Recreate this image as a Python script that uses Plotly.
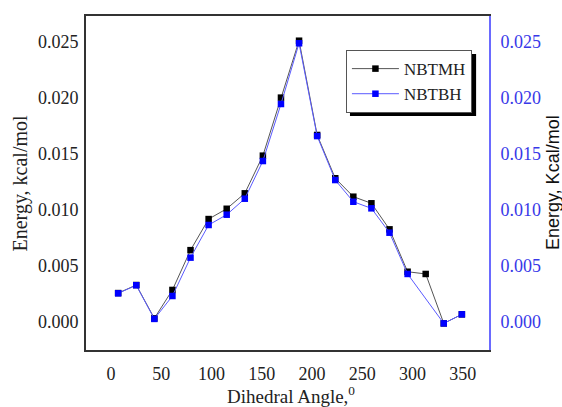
import plotly.graph_objects as go

# Dihedral scan energies for the two compounds
angles_nbtmh = [7, 25, 43, 61, 79, 97, 115, 133, 151, 169, 187, 205, 223, 241, 259, 277, 295, 313, 331, 349]
energy_nbtmh = [0.00256, 0.00328, 0.00030, 0.00284, 0.00640, 0.00918, 0.01010, 0.01148, 0.01485, 0.02004,
                0.02513, 0.01670, 0.01283, 0.01118, 0.01059, 0.00826, 0.00447, 0.00427, -0.00015, 0.00066]

angles_nbtbh = [7, 25, 43, 61, 79, 97, 115, 133, 151, 169, 187, 205, 223, 241, 259, 277, 295, 331, 349]
energy_nbtbh = [0.00254, 0.00326, 0.00025, 0.00230, 0.00573, 0.00865, 0.00957, 0.01100, 0.01437, 0.01947,
                0.02490, 0.01660, 0.01267, 0.01073, 0.01014, 0.00796, 0.00427, -0.00015, 0.00066]

x_ticks = [0, 50, 100, 150, 200, 250, 300, 350]
y_ticks = [0.000, 0.005, 0.010, 0.015, 0.020, 0.025]

SERIF = "Liberation Serif, Times New Roman, serif"
BLUE = "#0000ff"
TICK_BLUE = "#3838e8"

fig = go.Figure()
fig.add_trace(go.Scatter(
    x=angles_nbtmh, y=energy_nbtmh, name="NBTMH", mode="lines+markers",
    line=dict(color="#555555", width=1),
    marker=dict(symbol="square", size=6.5, color="#000000"),
))
fig.add_trace(go.Scatter(
    x=angles_nbtbh, y=energy_nbtbh, name="NBTBH", mode="lines+markers", yaxis="y2",
    line=dict(color="#5a5aff", width=1),
    marker=dict(symbol="square", size=6.5, color=BLUE),
))

y_range = [-0.00253, 0.02734]

fig.update_layout(
    width=562, height=407,
    margin=dict(l=86, r=73, t=16, b=57),
    paper_bgcolor="white", plot_bgcolor="white",
    showlegend=True,
    legend=dict(
        x=0.645, y=0.898, xanchor="left", yanchor="top",
        font=dict(family=SERIF, size=17, color="#222222"),
        bgcolor="white", bordercolor="#555555", borderwidth=1,
        tracegroupgap=0, itemwidth=47,
    ),
    xaxis=dict(
        range=[-25, 376], tickvals=x_ticks, showgrid=False, zeroline=False,
        showline=True, linecolor="#333333", linewidth=2, mirror=True,
        ticks="", ticklabelstandoff=6,
        tickfont=dict(family=SERIF, size=18, color="#222222"),
    ),
    yaxis=dict(
        range=y_range, tickvals=y_ticks, tickformat=".3f", showgrid=False, zeroline=False,
        showline=True, linecolor="#333333", linewidth=2, mirror=False,
        ticks="", ticklabelstandoff=2,
        tickfont=dict(family=SERIF, size=18, color="#222222"),
    ),
    yaxis2=dict(
        range=y_range, tickvals=y_ticks, tickformat=".3f", overlaying="y", side="right",
        showgrid=False, zeroline=False,
        showline=True, linecolor="#6a6aff", linewidth=2,
        ticks="", ticklabelstandoff=6,
        tickfont=dict(family=SERIF, size=18, color=TICK_BLUE),
    ),
    shapes=[
        # drop shadow behind the legend box
        dict(type="rect", xref="paper", yref="paper",
             x0=0.655, x1=0.968, y0=0.7006, y1=0.886,
             fillcolor="#000000", line=dict(width=0), layer="above"),
    ],
    annotations=[
        dict(text="Energy, kcal/mol", xref="paper", yref="paper", x=-0.165, y=0.5,
             textangle=-90, showarrow=False, xanchor="center", yanchor="middle",
             font=dict(family=SERIF, size=20, color="#222222")),
        dict(text="Energy, Kcal/mol", xref="paper", yref="paper", x=1.159, y=0.5,
             textangle=-90, showarrow=False, xanchor="center", yanchor="middle",
             font=dict(family="Liberation Sans", size=18, color="#111111")),
        dict(text="Dihedral Angle,<sup>0</sup>", xref="paper", yref="paper", x=0.508, y=-0.135,
             showarrow=False, xanchor="center", yanchor="middle",
             font=dict(family=SERIF, size=19, color="#222222")),
    ],
)

fig.write_html("out.html")
